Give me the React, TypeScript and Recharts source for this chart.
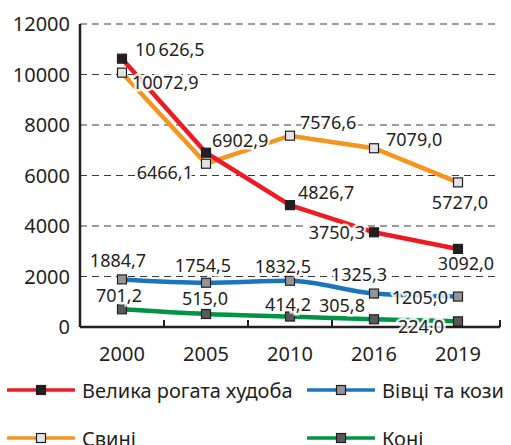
import { CartesianGrid, LabelList, Legend, Line, LineChart, XAxis, YAxis } from 'recharts';

const years = ['2000', '2005', '2010', '2016', '2019'];
const cattle = [10626.5, 6902.9, 4826.7, 3750.3, 3092.0];
const pigs = [10072.9, 6466.1, 7576.6, 7079.0, 5727.0];
const sheepGoats = [1884.7, 1754.5, 1832.5, 1325.3, 1205.0];
const horses = [701.2, 515.0, 414.2, 305.8, 224.0];
const yTicks = [0, 2000, 4000, 6000, 8000, 10000, 12000];

const data = years.map((year, i) => ({
  year,
  cattle: cattle[i],
  pigs: pigs[i],
  sheepGoats: sheepGoats[i],
  horses: horses[i],
}));

const FONT = '"Noto Sans", sans-serif';
const INK = '#231f20';
const HALF_BAND = 42;

type Anchor = 'start' | 'middle' | 'end';
type Place = [number, number, Anchor];

interface Series {
  key: string;
  name: string;
  color: string;
  marker: string;
  group?: boolean;
  curve: 'linear' | 'monotone';
  places: Place[];
}

const series: Series[] = [
  {
    key: 'pigs', name: 'Свині', color: '#f7941d', marker: '#e2e3e4', curve: 'linear',
    places: [[10, 9, 'start'], [-13, 8, 'end'], [10, -14, 'start'], [12, -9, 'start'], [2, 20, 'middle']],
  },
  {
    key: 'horses', name: 'Коні', color: '#009444', marker: '#58595b', curve: 'monotone',
    places: [[-3, -14, 'middle'], [-1, -16, 'middle'], [-2, -13, 'middle'], [-9, -14, 'end'], [-14, 5, 'end']],
  },
  {
    key: 'sheepGoats', name: 'Вівці та кози', color: '#1c75bc', marker: '#939598', curve: 'monotone',
    places: [[-4, -19, 'middle'], [-3, -18, 'middle'], [-7, -15, 'middle'], [-15, -20, 'middle'], [-10, 0, 'end']],
  },
  {
    key: 'cattle', name: 'Велика рогата худоба', color: '#ed1c24', marker: INK, group: true, curve: 'linear',
    places: [[13, -10, 'start'], [6, -13, 'start'], [8, -13, 'start'], [-9, 0, 'end'], [8, 14, 'middle']],
  },
];

const legendOrder = [
  { key: 'cattle', left: 7, top: 23 },
  { key: 'sheepGoats', left: 307, top: 23 },
  { key: 'pigs', left: 7, top: 71 },
  { key: 'horses', left: 307, top: 71 },
];

// only five-digit numbers get a thin group space, as in the source
const fmt = (v: number, group?: boolean) => {
  const [int, dec] = v.toFixed(1).split('.');
  const head = group && int.length > 4 ? `${int.slice(0, -3)}\u2009${int.slice(-3)}` : int;
  return `${head},${dec}`;
};

const Marker = (color: string) => (props: any) => (
  <rect
    key={`m-${props.index}`}
    x={props.cx - 4.5}
    y={props.cy - 4.5}
    width={9}
    height={9}
    fill={color}
    stroke={INK}
    strokeWidth={1.2}
  />
);

const PointLabel = (s: Series) => (props: any) => {
  const { x, y, value, index } = props;
  const [dx, dy, anchor] = s.places[index] ?? [0, -12, 'middle'];
  return (
    <text
      x={x + dx}
      y={y + dy}
      textAnchor={anchor}
      dominantBaseline="central"
      fontFamily={FONT}
      fontSize={18}
      fill={INK}
      stroke="#ffffff"
      strokeWidth={5}
      strokeOpacity={0.85}
      paintOrder="stroke"
    >
      {fmt(Number(value), s.group)}
    </text>
  );
};

const XTick = ({ x, y, payload }: any) => (
  <g>
    <line x1={x + HALF_BAND} x2={x + HALF_BAND} y1={y} y2={y - 7} stroke={INK} strokeWidth={2} />
    <text x={x} y={y + 26} textAnchor="middle" dominantBaseline="central" fontFamily={FONT} fontSize={20} fill={INK}>
      {payload.value}
    </text>
  </g>
);

const LegendBox = () => (
  <div style={{ position: 'relative', width: 511, height: 78, fontFamily: FONT }}>
    {legendOrder.map(item => {
      const s = series.find(x => x.key === item.key)!;
      return (
        <div key={item.key} style={{ position: 'absolute', left: item.left, top: item.top - 14, height: 28, display: 'flex', alignItems: 'center' }}>
          <svg width={68} height={12}>
            <line x1={1} x2={67} y1={6} y2={6} stroke={s.color} strokeWidth={3.5} strokeLinecap="round" />
            <rect x={29.5} y={1.5} width={9} height={9} fill={s.marker} stroke={INK} strokeWidth={1.2} />
          </svg>
          <span style={{ marginLeft: 7, fontSize: 20, color: INK, whiteSpace: 'nowrap' }}>{s.name}</span>
        </div>
      );
    })}
  </div>
);

export default function App() {
  return (
    <div style={{ position: 'absolute', left: 0, top: 0, background: '#fff' }}>
      <LineChart width={511} height={445} data={data} margin={{ top: 24, right: 11, bottom: 0, left: 0 }}>
        <CartesianGrid vertical={false} stroke="#3a3a3a" strokeDasharray="7 5" strokeWidth={1.2} />
        <XAxis
          dataKey="year"
          padding={{ left: HALF_BAND, right: HALF_BAND }}
          height={40}
          tickSize={0}
          tickMargin={0}
          tickLine={false}
          axisLine={{ stroke: INK, strokeWidth: 2.5 }}
          tick={<XTick />}
        />
        <YAxis
          width={80}
          domain={[0, 12000]}
          ticks={yTicks}
          interval={0}
          tickSize={0}
          tickMargin={10}
          tickLine={false}
          axisLine={{ stroke: INK, strokeWidth: 2.5 }}
          tick={{ fontFamily: FONT, fontSize: 20, fill: INK }}
        />
        {series.map(s => (
          <Line
            key={s.key}
            dataKey={s.key}
            name={s.name}
            type={s.curve}
            stroke={s.color}
            strokeWidth={4.5}
            dot={Marker(s.marker)}
            activeDot={false}
            isAnimationActive={false}
          />
        ))}
        {series.map(s => (
          <Line
            key={`${s.key}-labels`}
            dataKey={s.key}
            stroke="none"
            dot={false}
            activeDot={false}
            legendType="none"
            isAnimationActive={false}
          >
            <LabelList dataKey={s.key} content={PointLabel(s)} />
          </Line>
        ))}
        <Legend verticalAlign="bottom" content={<LegendBox />} wrapperStyle={{ left: 0, width: 511, height: 78 }} />
      </LineChart>
    </div>
  );
}
